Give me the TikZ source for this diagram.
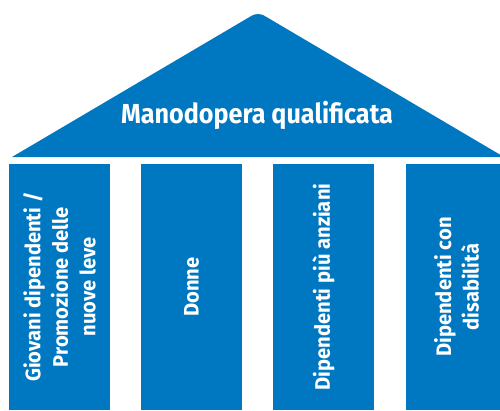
\documentclass[tikz,border=0pt]{standalone}
\usepackage{fontspec}
\setmainfont{Fira Sans}[FakeStretch=0.9]
\newfontfamily\pillarfont{Fira Sans}[FakeStretch=0.96]
\newfontfamily\rooffont{Fira Sans}[FakeStretch=0.915]
\definecolor{pillarblue}{RGB}{0,120,193}
\tikzset{
  pillar/.style={fill=pillarblue, rotate=90, minimum width=246, minimum height=101,
    inner sep=0pt, text=white, align=center, font=\pillarfont\bfseries\fontsize{21}{27.5}\selectfont, anchor=center},
  rooftext/.style={text=white, font=\rooffont\bfseries\fontsize{27.5}{30}\selectfont, inner sep=0pt}
}
\begin{document}
\begin{tikzpicture}[x=1pt,y=1pt]
\useasboundingbox (0,0) rectangle (500,-410);
\clip (0,0) rectangle (500,-410);
\fill[pillarblue] (12,-157) [rounded corners=7] -- (258,-12) [sharp corners] -- (504,-157) -- cycle;
\node[rooftext] (roof) at (257,-115.5) {Manodopera qualificata};
\node[pillar] (col1) at (59.5,-287) {Giovani dipendenti /\\Promozione delle\\nuove leve};
\node[pillar] (col2) at (191.5,-287) {Donne};
\node[pillar] (col3) at (323.5,-287) {Dipendenti più anziani};
\node[pillar] (col4) at (456.5,-287) {Dipendenti con\\disabilità};
\end{tikzpicture}
\end{document}
